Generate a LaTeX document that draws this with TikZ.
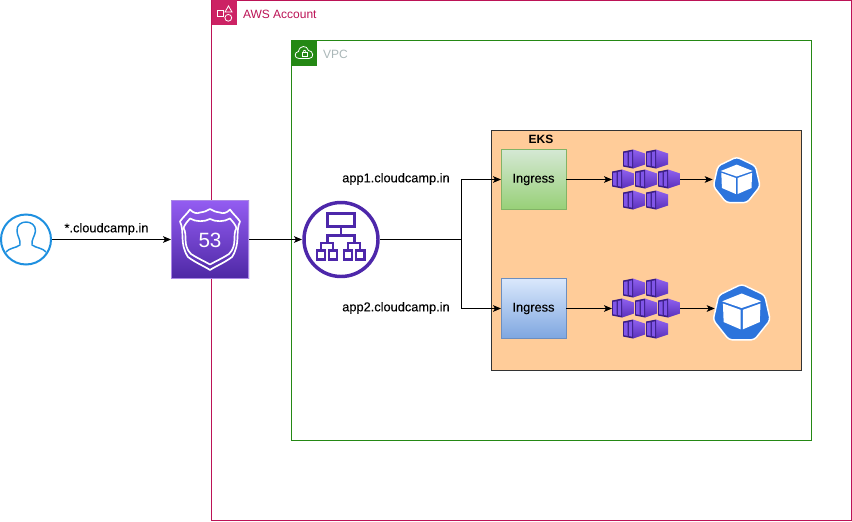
\documentclass[tikz,border=0pt]{standalone}
\usepackage{fontspec}
\setmainfont{Liberation Sans}
\newfontfamily\lblfont[FakeBold=0.12]{Liberation Sans}
\usetikzlibrary{arrows.meta}
\definecolor{acct}{HTML}{BC1356}
\definecolor{accticon}{HTML}{CC2264}
\definecolor{vpcgreen}{HTML}{248814}
\definecolor{vpctext}{HTML}{AAB7B8}
\definecolor{eksfill}{HTML}{FFCC99}
\definecolor{usercol}{HTML}{1E90E0}
\definecolor{albcol}{HTML}{4D27AA}
\definecolor{kubeblue}{HTML}{2C74DC}
\definecolor{cubedark}{HTML}{3A1D85}
\definecolor{cubebar}{HTML}{8055E8}
\definecolor{cubetop}{HTML}{8F60EE}
\definecolor{cubebot}{HTML}{5A30BC}
\definecolor{rtop}{HTML}{945DF2}
\definecolor{rbot}{HTML}{4E28A5}
\definecolor{rborder}{HTML}{AA87E6}
\definecolor{gtop}{HTML}{D5E8D4}
\definecolor{gbot}{HTML}{97D077}
\definecolor{gbord}{HTML}{82B366}
\definecolor{btop}{HTML}{DAE8FC}
\definecolor{bbot}{HTML}{7EA6E0}
\definecolor{bbord}{HTML}{6C8EBF}
\tikzset{
  x=0.75pt,y=-0.75pt,
  every node/.style={inner sep=0pt,outer sep=0pt},
  lbl/.style={font=\lblfont\fontsize{9.6pt}{11pt}\selectfont,text=black},
  cntlbl/.style={font=\fontsize{9pt}{11pt}\selectfont},
  iconbox/.style={minimum width=#1*0.75pt,minimum height=#1*0.75pt},
  boxnode/.style={minimum width=65*0.75pt,minimum height=60*0.75pt,lbl},
  conn/.style={draw=black,line width=0.75pt,-{Stealth[length=6pt,width=5pt,inset=1.5pt]}},
  plainconn/.style={draw=black,line width=0.75pt},
  albline/.style={draw=albcol,line width=2pt,fill=none},
  cubeicon/.pic={
    \shade[top color=cubetop,bottom color=cubebot]
      (10,0) -- (22,4) -- (22,15) -- (10,19) -- cycle;
    \fill[cubedark] (0,2) -- (10,0) -- (10,19) -- (0,17) -- cycle;
    \fill[cubebar] (1.2,3.3) -- (4.7,2.8) -- (4.7,16.4) -- (1.2,15.8) -- cycle;
    \fill[cubebar] (5.8,2.5) -- (9,1.8) -- (9,17.2) -- (5.8,16.5) -- cycle;
  },
  cubegroup/.pic={
    \pic at (-23,-30) {cubeicon};
    \pic at (0,-30) {cubeicon};
    \pic at (-34,-10) {cubeicon};
    \pic at (-11,-10) {cubeicon};
    \pic at (12,-10) {cubeicon};
    \pic at (-23,11) {cubeicon};
    \pic at (0,11) {cubeicon};
  },
  kubeicon/.pic={
    \draw[white,line width=1.1pt,fill=kubeblue,rounded corners=2.5pt]
      (0,-24) -- (18.8,-15) -- (23.4,5.3) -- (10.4,21.6) -- (-10.4,21.6) -- (-23.4,5.3) -- (-18.8,-15) -- cycle;
    \fill[white] (0,-16.4) -- (16,-10) -- (0,-4.5) -- (-16,-10) -- cycle;
    \fill[white] (-15.4,-8.2) -- (-0.9,-3) -- (-0.9,13) -- (-14.8,7) -- cycle;
    \fill[white] (15.4,-8.2) -- (0.9,-3) -- (0.9,13) -- (14.8,7) -- cycle;
  }
}
\begin{document}
\begin{tikzpicture}
\useasboundingbox (0,0) rectangle (852,521);
\fill[white] (0,0) rectangle (852,521);
% containers
\draw[acct,line width=0.75pt] (211.5,0.5) rectangle (851.5,520.5);
\fill[accticon] (212,0) rectangle (236.5,25);
\draw[white,line width=0.6pt] (217.5,10) rectangle (223.5,16.5);
\draw[white,line width=0.6pt] (228.5,6) -- (232,12) -- (225,12) -- cycle;
\draw[white,line width=0.6pt] (228.3,17.8) circle (3.4);
\node[anchor=west,cntlbl,text=acct] (acctlabel) at (243,14) {AWS Account};
\draw[vpcgreen,line width=0.75pt] (291.5,40.5) rectangle (811.5,440.5);
\fill[vpcgreen] (291.5,40.5) rectangle (316.5,66);
\draw[white,line width=0.6pt,line join=round] (299,58.5) .. controls (294,58.5) and (294,52) .. (298.5,51.5)
  .. controls (299.5,45) and (307,45) .. (308.5,50.5) .. controls (313.5,50.5) and (314.5,58.5) .. (309,58.5) -- cycle;
\draw[white,line width=0.5pt] (302,52.5) rectangle (307,56.5);
\draw[white,line width=0.5pt] (303,52.5) .. controls (303,49.5) and (306,49.5) .. (306,52.5);
\node[anchor=west,cntlbl,text=vpctext] (vpclabel) at (323,54) {VPC};
\draw[black!80,line width=0.75pt,fill=eksfill] (491.5,130.5) rectangle (801.5,370.5);
\node[lbl,font=\fontsize{9pt}{11pt}\selectfont\bfseries] (ekslabel) at (541,139) {EKS};
% anchors of every element
\node[iconbox=52] (user) at (26,239.5) {};
\node[iconbox=78] (r53) at (210,239.5) {};
\node[iconbox=78] (alb) at (341,239.5) {};
\coordinate (elbow) at (461.5,239.5);
\node[boxnode,draw=gbord,top color=gtop,bottom color=gbot] (ing1) at (533.5,179.5) {Ingress};
\node[boxnode,draw=bbord,top color=btop,bottom color=bbot] (ing2) at (533.5,308.5) {Ingress};
\node[minimum width=68*0.75pt,minimum height=60*0.75pt] (pods1) at (646,179.5) {};
\node[minimum width=68*0.75pt,minimum height=60*0.75pt] (pods2) at (646,308.5) {};
\node[iconbox=48] (kube1) at (736.7,179.5) {};
\node[iconbox=54] (kube2) at (741.7,308.5) {};
% connectors
\draw[conn] (user.east) -- (r53.west);
\draw[conn] (r53.east) -- (alb.west);
\draw[plainconn] (alb.east) -- (elbow);
\draw[conn] (elbow) |- (ing1.west);
\draw[conn] (elbow) |- (ing2.west);
\draw[conn] (ing1.east) -- (pods1.west);
\draw[conn] (ing2.east) -- (pods2.west);
\draw[conn] (pods1.east) -- (kube1.west);
\draw[conn] (pods2.east) -- (kube2.west);
% labels
\node[lbl] (l0) at (106.5,229) {*.cloudcamp.in};
\node[lbl] (l1) at (396,179) {app1.cloudcamp.in};
\node[lbl] (l2) at (396,308) {app2.cloudcamp.in};
% user icon
\draw[usercol,line width=1.5pt,fill=white] (user.center) circle (25);
\draw[usercol,line width=1.1pt,line join=round] (6,252) .. controls (9,248) and (16,248) .. (20,245)
  .. controls (21,240) and (17,236) .. (17,231) .. controls (16,219) and (36,219) .. (35.5,231)
  .. controls (35,236) and (31,240) .. (32,245) .. controls (36,248) and (43,248) .. (46,252);
% route 53 icon
\shade[top color=rtop,bottom color=rbot] (171,200) rectangle (249,278.5);
\draw[rborder,line width=0.7pt] (171.5,200.5) rectangle (248.5,278);
\draw[white,line width=1.25pt,line join=round]
 (190,209.5) .. controls (193,213) and (197,214) .. (200,212.5) .. controls (204,212) and (207,211) .. (210,209)
 .. controls (213,211) and (216,212) .. (220,212.5) .. controls (223,214) and (227,213) .. (230,209.5)
 .. controls (233,214) and (237,217) .. (240,221.5) .. controls (235,232) and (241,243) .. (232,257)
 .. controls (224,263) and (216,266) .. (210,270) .. controls (204,266) and (196,263) .. (188,257)
 .. controls (179,243) and (185,232) .. (180,221.5) .. controls (183,217) and (187,214) .. (190,209.5) -- cycle;
\draw[white,line width=1.25pt,line join=round]
 (190,218.5) .. controls (187,222) and (185,224) .. (183.5,228) .. controls (188,235) and (182,245) .. (191,254)
 .. controls (197,258) and (204,261) .. (210,264.5) .. controls (216,261) and (223,258) .. (229,254)
 .. controls (238,245) and (232,235) .. (236.5,228) .. controls (235,224) and (233,222) .. (230,218.5)
 .. controls (224,222) and (216,222) .. (210,219) .. controls (204,222) and (196,222) .. (190,218.5) -- cycle;
\node[text=white,font=\fontsize{15.5pt}{17pt}\selectfont] (r53num) at (210,240) {53};
% load balancer icon
\draw[albcol,line width=2.6pt,fill=white] (alb.center) circle (37);
\draw[albline] (327.5,213.5) rectangle (354.5,226.5);
\draw[albline] (341,226.5) -- (341,235.5) (327.5,243) -- (327.5,235.5) -- (354.5,235.5) -- (354.5,243);
\draw[albline] (321,250) -- (321,243) -- (333,243) -- (333,250);
\draw[albline] (348,250) -- (348,243) -- (360,243) -- (360,250);
\draw[albline] (317,250.5) rectangle (325,259.5);
\draw[albline] (329,250.5) rectangle (337,259.5);
\draw[albline] (344,250.5) rectangle (352,259.5);
\draw[albline] (356,250.5) rectangle (364.5,259.5);
% pods and kubernetes icons
\pic at (pods1.center) {cubegroup};
\pic at (pods2.center) {cubegroup};
\pic at (736.7,181) {kubeicon};
\pic[scale=1.22] at (741.7,313.5) {kubeicon};
\end{tikzpicture}
\end{document}
